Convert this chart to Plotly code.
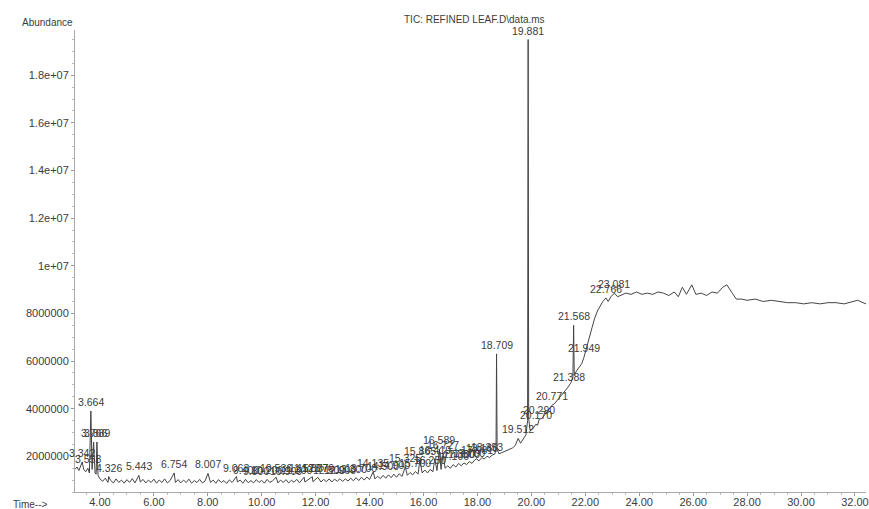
import numpy as np
import plotly.graph_objects as go

# Retention time (min) and abundance (millions of counts)
times = [
    3.08, 3.15, 3.22, 3.29, 3.342, 3.40, 3.47, 3.553, 3.61, 3.664,
    3.71, 3.766, 3.82, 3.86, 3.889, 3.93, 3.97,
    4.0, 4.1, 4.2, 4.3, 4.326, 4.4, 4.5, 4.6, 4.7, 4.8, 4.9,
    5.0, 5.1, 5.2, 5.3, 5.443, 5.5, 5.6, 5.7, 5.8, 5.9,
    6.0, 6.1, 6.2, 6.3, 6.4, 6.5, 6.6, 6.754, 6.8, 6.9,
    7.0, 7.1, 7.2, 7.3, 7.4, 7.5, 7.6, 7.7, 7.8, 7.9,
    8.007, 8.1, 8.2, 8.3, 8.4, 8.5, 8.6, 8.7, 8.8, 8.9,
    9.063, 9.1, 9.2, 9.3, 9.4, 9.5, 9.6, 9.7, 9.8, 9.9,
    10.0, 10.1, 10.2, 10.3, 10.4, 10.536, 10.6, 10.7, 10.8, 10.9,
    11.0, 11.1, 11.2, 11.3, 11.4, 11.573, 11.6, 11.7, 11.877, 11.9,
    12.0, 12.079, 12.2, 12.3, 12.4, 12.5, 12.6, 12.7, 12.8, 12.9,
    13.0, 13.1, 13.2, 13.3, 13.4, 13.5, 13.6, 13.7, 13.8, 13.9,
    14.0, 14.135, 14.2, 14.3, 14.4, 14.5, 14.6, 14.7, 14.8, 14.9,
    15.0, 15.1, 15.2, 15.325, 15.4, 15.5, 15.6, 15.7, 15.8, 15.865,
    15.95, 16.05, 16.15, 16.25, 16.35, 16.419, 16.5, 16.589, 16.65, 16.727,
    16.8, 16.9, 17.0, 17.1, 17.2, 17.3, 17.4, 17.5, 17.6, 17.7,
    17.8, 17.9, 17.981, 18.05, 18.166, 18.25, 18.353, 18.45, 18.55, 18.65,
    18.69, 18.709, 18.73, 18.8, 18.9, 19.0, 19.1, 19.2, 19.3, 19.4,
    19.512, 19.6, 19.7, 19.8, 19.86, 19.881, 19.90, 19.95, 20.05, 20.170,
    20.23, 20.290, 20.4, 20.5, 20.6, 20.771, 20.85, 20.95, 21.05, 21.15,
    21.25, 21.388, 21.47, 21.54, 21.568, 21.59, 21.68, 21.78, 21.87, 21.949,
    22.05, 22.15, 22.25, 22.35, 22.45, 22.55, 22.65, 22.766, 22.85, 22.95,
    23.081, 23.2, 23.3, 23.5, 23.7, 23.9, 24.1, 24.3, 24.5, 24.7,
    24.9, 25.1, 25.3, 25.45, 25.6, 25.75, 25.95, 26.1, 26.3, 26.5,
    26.7, 26.9, 27.1, 27.25, 27.45, 27.6, 27.8, 28.0, 28.3, 28.6,
    28.9, 29.2, 29.5, 29.8, 30.1, 30.4, 30.7, 31.0, 31.3, 31.6,
    31.9, 32.1, 32.3, 32.41,
]
abundance_millions = [
    1.45, 1.55, 1.40, 1.60, 1.75, 1.45, 1.35, 1.50, 1.30, 3.90,
    1.45, 2.60, 1.30, 1.25, 2.60, 1.20, 1.10,
    1.05, 0.95, 1.08, 0.90, 1.15, 0.98, 0.88, 1.05, 0.90, 1.00, 0.87,
    1.02, 0.90, 1.06, 0.88, 1.20, 0.92, 1.03, 0.88, 1.00, 0.90,
    1.04, 0.87, 1.00, 0.90, 1.05, 0.88, 0.98, 1.30, 0.90, 1.02,
    0.88, 1.00, 0.90, 1.04, 0.87, 0.98, 0.90, 1.03, 0.88, 0.96,
    1.28, 0.90, 1.00, 0.87, 1.02, 0.90, 0.98, 0.86, 1.01, 0.90,
    1.15, 0.92, 1.00, 0.87, 1.03, 0.89, 0.98, 0.88, 1.02, 0.90,
    0.99, 0.87, 1.03, 0.90, 0.97, 1.12, 0.88, 1.00, 0.90, 1.02,
    0.88, 0.99, 0.91, 1.03, 0.89, 1.12, 0.92, 1.00, 1.14, 0.93,
    1.02, 1.12, 0.92, 1.03, 0.93, 1.05, 0.92, 1.04, 0.95, 1.06,
    0.94, 1.05, 0.96, 1.08, 0.97, 1.10, 0.98, 1.12, 1.00, 1.13,
    1.02, 1.35, 1.05, 1.16, 1.06, 1.20, 1.08, 1.22, 1.10, 1.25,
    1.12, 1.27, 1.15, 1.55, 1.20, 1.32, 1.22, 1.36, 1.25, 1.85,
    1.30, 1.42, 1.30, 1.45, 1.35, 1.90, 1.40, 2.30, 1.45, 2.10,
    1.50, 1.60, 1.50, 1.65, 1.55, 1.70, 1.60, 1.72, 1.65, 1.78,
    1.70, 1.85, 1.90, 1.80, 1.95, 1.88, 2.00, 1.95, 2.05, 2.10,
    2.40, 6.30, 2.30, 2.10, 2.15, 2.20, 2.25, 2.30, 2.35, 2.45,
    2.75, 2.55, 2.70, 2.90, 3.50, 19.50, 3.60, 3.10, 3.15, 3.35,
    3.30, 3.55, 3.60, 3.75, 3.90, 4.15, 4.20, 4.35, 4.50, 4.60,
    4.75, 4.95, 5.10, 5.30, 7.50, 5.40, 5.60, 5.75, 5.90, 6.15,
    6.60, 7.00, 7.40, 7.80, 8.10, 8.30, 8.50, 8.65, 8.50, 8.70,
    8.85, 8.70, 8.75, 8.85, 8.80, 8.90, 8.80, 8.85, 8.80, 8.90,
    8.85, 8.75, 8.90, 8.70, 9.10, 8.80, 9.20, 8.80, 8.85, 8.75,
    8.90, 8.85, 9.10, 9.20, 8.85, 8.60, 8.60, 8.55, 8.60, 8.50,
    8.55, 8.50, 8.45, 8.45, 8.40, 8.45, 8.40, 8.45, 8.45, 8.40,
    8.50, 8.55, 8.45, 8.40,
]

# Integrated peaks that carry a retention-time label
peak_times = [
    3.342, 3.553, 3.664, 3.766, 3.889, 4.326, 5.443, 6.754, 8.007, 9.063,
    9.4, 9.8, 10.2, 10.536, 10.9, 11.3, 11.573, 11.877, 12.079, 12.5,
    12.9, 13.3, 13.7, 14.135, 14.5, 14.9, 15.325, 15.7, 15.865, 16.25,
    16.419, 16.589, 16.727, 17.1, 17.3, 17.5, 17.7, 17.981, 18.166, 18.353,
    18.709, 19.512, 19.881, 20.170, 20.290, 20.771, 21.388, 21.568, 21.949,
    22.766, 23.081,
]

x_tick_vals = [4, 6, 8, 10, 12, 14, 16, 18, 20, 22, 24, 26, 28, 30, 32]
x_tick_text = ["4.00", "6.00", "8.00", "10.00", "12.00", "14.00", "16.00", "18.00",
               "20.00", "22.00", "24.00", "26.00", "28.00", "30.00", "32.00"]
y_tick_vals = [2e6, 4e6, 6e6, 8e6, 1e7, 1.2e7, 1.4e7, 1.6e7, 1.8e7]
y_tick_text = ["2000000", "4000000", "6000000", "8000000", "1e+07",
               "1.2e+07", "1.4e+07", "1.6e+07", "1.8e+07"]

title_text = "TIC: REFINED LEAF.D\\data.ms"

t = np.array(times)
y = np.array(abundance_millions) * 1e6

FONT = "Liberation Sans, Arial, sans-serif"
TXT = "#3c3c3c"
LINE = "#444444"

fig = go.Figure()
fig.add_trace(go.Scatter(x=t, y=y, mode="lines",
                         line=dict(color=LINE, width=1), hoverinfo="x+y",
                         showlegend=False))

annotations = []
for pt in peak_times:
    py = float(np.interp(pt, t, y))
    annotations.append(dict(x=pt, y=py, xref="x", yref="y", text=f"{pt:.3f}",
                            showarrow=False, yanchor="bottom", yshift=1,
                            font=dict(family=FONT, size=10.5, color=TXT)))

annotations += [
    dict(x=0, y=1.017, xref="paper", yref="paper", text="Abundance",
         showarrow=False, xanchor="right", yanchor="middle",
         font=dict(family=FONT, size=10, color=TXT)),
    dict(x=0, y=-0.026, xref="paper", yref="paper", text="Time-->",
         showarrow=False, xanchor="right", yanchor="middle", xshift=-25,
         font=dict(family=FONT, size=10, color=TXT)),
    dict(x=0.505, y=1.022, xref="paper", yref="paper", text=title_text,
         showarrow=False, xanchor="center", yanchor="middle",
         font=dict(family=FONT, size=10, color=TXT)),
]

fig.update_layout(
    width=869, height=509,
    margin=dict(l=75, r=0, t=30, b=17),
    paper_bgcolor="white", plot_bgcolor="white",
    showlegend=False,
    annotations=annotations,
    xaxis=dict(range=[3.076, 32.41], tickvals=x_tick_vals, ticktext=x_tick_text,
               ticks="outside", ticklen=3, tickcolor="#999", showline=True,
               linecolor="#aaa", linewidth=1, showgrid=False, zeroline=False,
               ticklabelstandoff=-3, ticklabeloverflow="allow",
               tickfont=dict(family=FONT, size=11, color=TXT),
               minor=dict(ticks="outside", ticklen=2, dtick=0.5, tickcolor="#bbb")),
    yaxis=dict(range=[0.5e6, 19.9e6], tickvals=y_tick_vals, ticktext=y_tick_text,
               ticks="outside", ticklen=3, tickcolor="#999", showline=True,
               linecolor="#aaa", linewidth=1, showgrid=False, zeroline=False,
               tickfont=dict(family=FONT, size=11, color=TXT),
               minor=dict(ticks="outside", ticklen=2, dtick=5e5, tickcolor="#bbb")),
)

fig.write_html("out.html", config={"displayModeBar": False},
               post_script="document.body.style.margin='0px';document.body.style.overflow='hidden';")
